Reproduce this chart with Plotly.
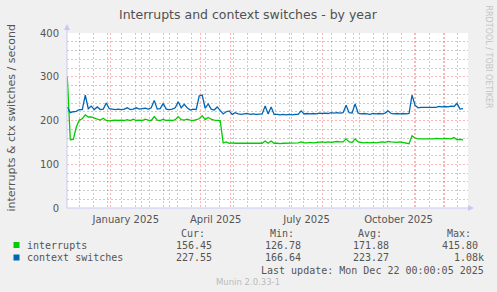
import pandas as pd
import plotly.graph_objects as go

# ---------------- data ----------------
start_date = "2024-11-19"
step_days = 3

interrupts = [
    300, 156, 157, 185, 201, 204, 213, 208, 208, 205,
    203, 201, 205, 200, 199, 200, 201, 200, 201, 200,
    202, 200, 203, 200, 201, 200, 203, 201, 200, 209,
    201, 200, 203, 200, 201, 200, 202, 209, 202, 201,
    203, 201, 200, 202, 204, 211, 202, 207, 203, 201,
    200, 200, 149, 151, 148, 149, 148, 148, 148, 149,
    148, 149, 148, 148, 149, 148, 153, 148, 153, 148,
    148, 147, 148, 148, 149, 148, 148, 149, 151, 149,
    149, 150, 149, 150, 150, 151, 150, 151, 150, 151,
    152, 151, 151, 158, 151, 150, 158, 151, 150, 149,
    150, 149, 150, 149, 150, 151, 150, 152, 151, 150,
    150, 151, 150, 149, 147, 165, 160, 158, 158, 157,
    158, 158, 158, 159, 158, 158, 159, 158, 158, 161,
    156, 157, 156,
]

context_switches = [
    231, 218, 220, 221, 225, 225, 258, 227, 233, 225,
    231, 225, 226, 240, 227, 226, 225, 226, 225, 226,
    229, 225, 226, 229, 226, 227, 228, 226, 229, 246,
    226, 227, 239, 226, 225, 226, 229, 243, 229, 237,
    229, 224, 226, 225, 256, 258, 228, 238, 226, 224,
    231, 223, 215, 220, 222, 214, 218, 215, 214, 215,
    216, 214, 215, 214, 215, 215, 233, 215, 231, 214,
    214, 213, 214, 213, 214, 213, 214, 214, 222, 215,
    216, 215, 216, 215, 217, 216, 217, 216, 218, 217,
    218, 217, 218, 235, 218, 217, 238, 217, 215, 216,
    215, 214, 216, 215, 216, 215, 217, 222, 216, 215,
    216, 215, 216, 215, 216, 258, 235, 229, 230, 230,
    231, 230, 231, 230, 232, 231, 232, 231, 233, 232,
    239, 226, 227, 228,
]

series_names = ["interrupts", "context switches"]
series_colors = ["#00CC00", "#0066B3"]
stat_headers = ["Cur:", "Min:", "Avg:", "Max:"]
stats_interrupts = ["156.45", "126.78", "171.88", "415.80"]
stats_context = ["227.55", "166.64", "223.27", "1.08k"]

x_tick_vals = ["2025-01-16 12:00", "2025-04-16 12:00", "2025-07-16 12:00", "2025-10-16 12:00"]
x_tick_text = ["January 2025", "April 2025", "July 2025", "October 2025"]

x_range = ["2024-11-18 17:00", "2025-12-25 00:00"]
y_range = [0, 400]

title_text = "Interrupts and context switches - by year"
y_title = "interrupts &amp; ctx switches / second"
last_update = "Last update: Mon Dec 22 00:00:05 2025"
munin_text = "Munin 2.0.33-1"
rrd_text = "RRDTOOL / TOBI OETIKER"

# ---------------- layout geometry ----------------
W, H = 497, 292
L, R, T, B = 67, 29, 33, 84
PW, PH = W - L - R, H - T - B


def px(x):
    return (x - L) / PW


def py(y):
    return (H - B - y) / PH


dates = pd.date_range(start_date, periods=len(interrupts), freq=f"{step_days}D")

fig = go.Figure()
for name, vals, col in zip(series_names, [interrupts, context_switches], series_colors):
    fig.add_trace(go.Scatter(x=dates, y=vals, mode="lines", name=name,
                             line=dict(color=col, width=1.3), showlegend=False,
                             hoverinfo="skip"))
# invisible trace on secondary x axis to carry the month labels
fig.add_trace(go.Scatter(x=[dates[0]], y=[None], xaxis="x2", showlegend=False,
                         hoverinfo="skip"))

major_grid = "rgba(250,80,80,0.42)"
minor_grid = "rgba(150,150,150,0.5)"
grid_dash = "2px,2px"
axis_col = "#C8C8F4"
txt_col = "#555555"

fig.update_layout(
    width=W, height=H,
    margin=dict(l=L, r=R, t=T, b=B, pad=0),
    paper_bgcolor="#F0F0F0",
    plot_bgcolor="#FFFFFF",
    font=dict(family="DejaVu Sans", size=9, color=txt_col),
    xaxis=dict(
        type="date", range=x_range, showticklabels=False,
        tick0="2024-12-01", dtick="M1",
        showgrid=True, gridcolor=major_grid, griddash=grid_dash, gridwidth=1,
        minor=dict(tick0="2024-12-15", dtick=14 * 86400000, showgrid=True,
                   gridcolor=minor_grid, griddash=grid_dash, gridwidth=1),
        zeroline=False, showline=False, ticks="", fixedrange=True,
    ),
    xaxis2=dict(
        type="date", range=x_range, overlaying="x", side="bottom",
        tickvals=x_tick_vals, ticktext=x_tick_text, showgrid=False,
        ticks="outside", ticklen=2, tickcolor="rgba(0,0,0,0)",
        tickfont=dict(family="DejaVu Sans", size=10, color=txt_col),
        zeroline=False, showline=False,
    ),
    yaxis=dict(
        range=y_range, tick0=0, dtick=100,
        showgrid=True, gridcolor=major_grid, griddash=grid_dash, gridwidth=1,
        minor=dict(dtick=20, showgrid=True, gridcolor=minor_grid,
                   griddash=grid_dash, gridwidth=1),
        zeroline=False, showline=False,
        ticks="outside", ticklen=5, tickcolor="rgba(0,0,0,0)",
        tickfont=dict(family="DejaVu Sans", size=10, color=txt_col),
    ),
)

shapes = []
# axis lines with arrowheads
shapes.append(dict(type="line", xref="paper", yref="paper",
                   x0=px(67), x1=px(469), y0=py(208), y1=py(208),
                   line=dict(color=axis_col, width=1)))
shapes.append(dict(type="path", xref="paper", yref="paper",
                   path=f"M {px(468)} {py(205)} L {px(474)} {py(208)} L {px(468)} {py(211)} Z",
                   fillcolor=axis_col, line=dict(width=0)))
shapes.append(dict(type="line", xref="paper", yref="paper",
                   x0=px(67), x1=px(67), y0=py(208), y1=py(29),
                   line=dict(color=axis_col, width=1)))
shapes.append(dict(type="path", xref="paper", yref="paper",
                   path=f"M {px(64)} {py(30)} L {px(67)} {py(24)} L {px(70)} {py(30)} Z",
                   fillcolor=axis_col, line=dict(width=0)))
# legend squares
for col, yc in zip(series_colors, [245, 257.5]):
    shapes.append(dict(type="rect", xref="paper", yref="paper",
                       x0=px(13.5), x1=px(19.5), y0=py(yc - 3), y1=py(yc + 3),
                       fillcolor=col, line=dict(width=0)))
fig.update_layout(shapes=shapes)

ann = []


def add_text(text, x, y, size, family="DejaVu Sans", color=txt_col, xanchor="left",
             angle=0):
    ann.append(dict(text=text, x=px(x), y=py(y), xref="paper", yref="paper",
                    showarrow=False, xanchor=xanchor, yanchor="middle",
                    textangle=angle, borderpad=0, borderwidth=0,
                    font=dict(family=family, size=size, color=color)))


add_text(title_text, 248, 14, 12.5, xanchor="center", color="#505050")
add_text(y_title, 11, 118.5, 11, xanchor="center", angle=-90)
add_text(rrd_text, 488.5, 57, 8, xanchor="center", angle=90, color="#C4C4C4")

mono = "DejaVu Sans Mono"
header_x = [181, 270, 358, 446.5]
for h, xx in zip(stat_headers, header_x):
    add_text(h, xx, 233.5, 10, family=mono)

add_text(series_names[0], 26.5, 245.5, 10, family=mono)
add_text(series_names[1], 26.5, 257.5, 10, family=mono)
val_right = [212, 301, 389, 478]
for row_vals, yy in zip([stats_interrupts, stats_context], [245.5, 257.5]):
    for i, (v, xr) in enumerate(zip(row_vals, val_right)):
        if v.endswith("k"):
            add_text(v, 483.5, yy, 10, family=mono, xanchor="right")
        else:
            add_text(v, xr, yy, 10, family=mono, xanchor="right")

add_text(last_update, 483.5, 270, 10, family=mono, xanchor="right")
add_text(munin_text, 248, 281.5, 8.5, xanchor="center", color="#BBBBBB")

fig.update_layout(annotations=ann)

fig.write_html("out.html")
